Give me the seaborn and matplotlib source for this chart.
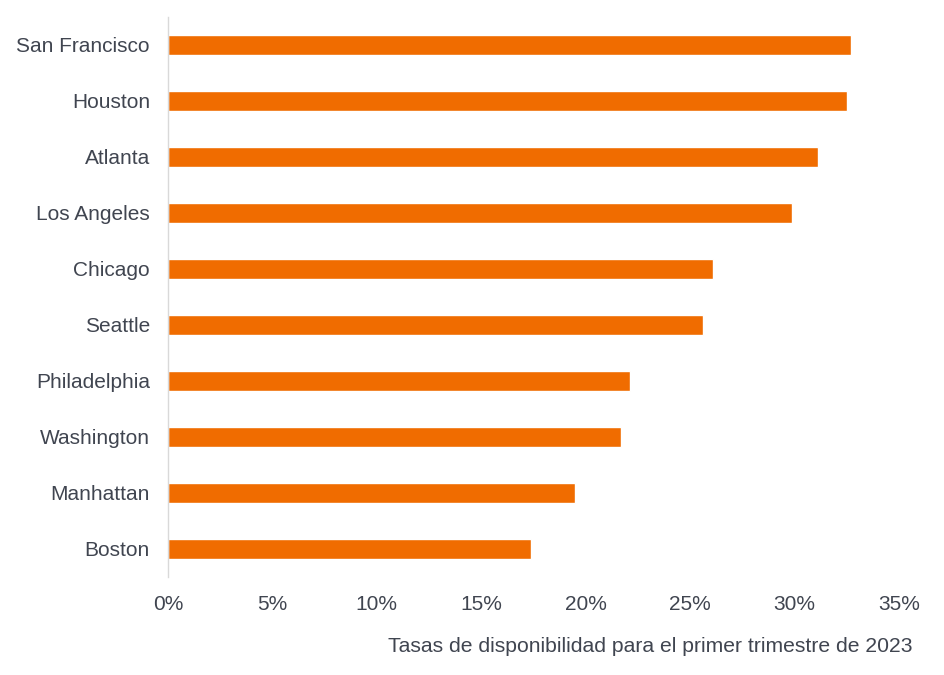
import pandas as pd
import matplotlib.pyplot as plt
import seaborn as sns
from matplotlib.ticker import PercentFormatter

# datos
ciudades = ['San Francisco', 'Houston', 'Atlanta', 'Los Angeles', 'Chicago',
            'Seattle', 'Philadelphia', 'Washington', 'Manhattan', 'Boston']
tasas = [0.327, 0.325, 0.311, 0.299, 0.261, 0.256, 0.221, 0.217, 0.195, 0.174]

df = pd.DataFrame({'Ciudad': ciudades, 'Tasa': tasas})

sns.set_theme(style='white')
plt.rcParams['font.family'] = ['Liberation Sans', 'DejaVu Sans']

texto = '#404550'

fig = plt.figure(figsize=(9.44, 6.75), dpi=100)
ax = fig.add_axes([168 / 944, 1 - 577 / 675, 731 / 944, 560 / 675])

sns.barplot(data=df, x='Tasa', y='Ciudad', color='#F06C00', width=0.36,
            saturation=1, ax=ax)

ax.set_xlim(0, 0.35)
ax.set_ylim(9.5, -0.5)
ax.set_xticks([0, 0.05, 0.10, 0.15, 0.20, 0.25, 0.30, 0.35])
ax.xaxis.set_major_formatter(PercentFormatter(1.0, decimals=0))

for s in ['top', 'right', 'bottom']:
    ax.spines[s].set_visible(False)
ax.spines['left'].set_color('#d9d9d9')
ax.spines['left'].set_linewidth(1)

ax.tick_params(axis='both', length=0, labelsize=15, colors=texto)
ax.tick_params(axis='x', pad=13)
ax.tick_params(axis='y', pad=13)

ax.set_ylabel('')
ax.set_xlabel('Tasas de disponibilidad para el primer trimestre de 2023',
              fontsize=15.2, color=texto, ha='right')
ax.xaxis.set_label_coords((912 - 168) / 731, -0.108)

plt.savefig('out.png', dpi=100)
